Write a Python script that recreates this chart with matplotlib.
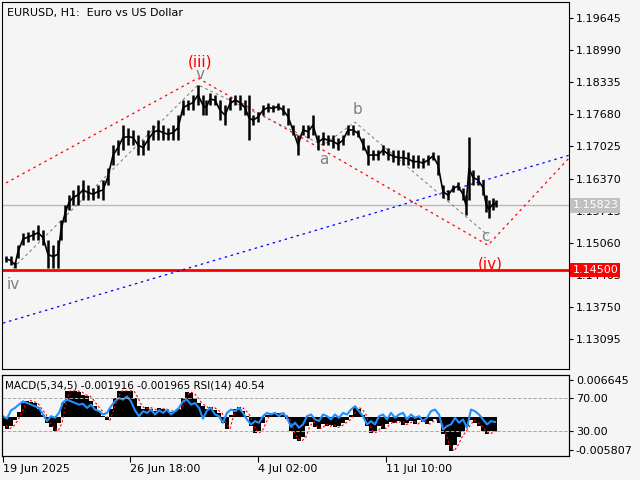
import matplotlib.pyplot as plt
import matplotlib.transforms as mtransforms

# price samples (bar position, high, low)
bars = [3, 8, 12, 15, 20, 25, 30, 35, 40, 45, 50, 55, 58, 62, 66, 70, 75, 80, 85, 90,
        95, 100, 105, 110, 115, 120, 125, 130, 135, 140, 145, 150, 155, 160, 165, 170, 175, 180, 185, 190,
        195, 200, 203, 207, 212, 217, 222, 227, 232, 237, 242, 246, 250, 255, 260, 265, 270, 275, 280, 285,
        290, 295, 300, 305, 310, 315, 320, 325, 330, 335, 340, 345, 350, 355, 360, 365, 370, 375, 380, 385,
        390, 395, 400, 405, 410, 415, 420, 425, 430, 435, 440, 445, 450, 455, 460, 463, 466, 470, 475, 480,
        483, 486, 490, 493]
highs = [1.1479, 1.1479, 1.1467, 1.1501, 1.1526, 1.1528, 1.1532, 1.1542, 1.1532, 1.1511, 1.1501, 1.1511,
         1.1552, 1.1583, 1.1603, 1.1613, 1.1624, 1.1634, 1.1624, 1.1617, 1.1624, 1.1634, 1.1658, 1.1705,
         1.1715, 1.1746, 1.1740, 1.1736, 1.1726, 1.1715, 1.1736, 1.1746, 1.1756, 1.1746, 1.1740, 1.1746,
         1.1766, 1.1797, 1.1797, 1.1807, 1.1828, 1.1807, 1.1797, 1.1811, 1.1807, 1.1797, 1.1787, 1.1803,
         1.1807, 1.1807, 1.1797, 1.1807, 1.1766, 1.1773, 1.1787, 1.1791, 1.1787, 1.1791, 1.1787, 1.1781,
         1.1746, 1.1726, 1.1746, 1.1746, 1.1766, 1.1726, 1.1732, 1.1726, 1.1726, 1.1719, 1.1726, 1.1746,
         1.1746, 1.1736, 1.1719, 1.1705, 1.1695, 1.1695, 1.1705, 1.1699, 1.1695, 1.1695, 1.1695, 1.1691,
         1.1685, 1.1685, 1.1679, 1.1685, 1.1691, 1.1685, 1.1624, 1.1613, 1.1624, 1.1630, 1.1617, 1.1603,
         1.1722, 1.1654, 1.1644, 1.1634, 1.1603, 1.1593, 1.1597, 1.1593]
lows = [1.1467, 1.1460, 1.1454, 1.1475, 1.1501, 1.1507, 1.1511, 1.1511, 1.1501, 1.1454, 1.1454, 1.1454,
        1.1511, 1.1548, 1.1573, 1.1583, 1.1583, 1.1593, 1.1593, 1.1593, 1.1597, 1.1593, 1.1624, 1.1664,
        1.1685, 1.1695, 1.1705, 1.1705, 1.1685, 1.1685, 1.1695, 1.1715, 1.1715, 1.1715, 1.1715, 1.1715,
        1.1715, 1.1766, 1.1777, 1.1777, 1.1787, 1.1766, 1.1766, 1.1787, 1.1787, 1.1756, 1.1746, 1.1777,
        1.1787, 1.1777, 1.1766, 1.1715, 1.1746, 1.1752, 1.1766, 1.1773, 1.1773, 1.1777, 1.1766, 1.1746,
        1.1726, 1.1685, 1.1726, 1.1719, 1.1726, 1.1695, 1.1705, 1.1705, 1.1699, 1.1695, 1.1705, 1.1726,
        1.1726, 1.1722, 1.1695, 1.1664, 1.1675, 1.1675, 1.1685, 1.1675, 1.1671, 1.1664, 1.1664, 1.1664,
        1.1658, 1.1658, 1.1658, 1.1664, 1.1675, 1.1644, 1.1597, 1.1593, 1.1609, 1.1613, 1.1593, 1.1562,
        1.1593, 1.1624, 1.1624, 1.1603, 1.1568, 1.1556, 1.1573, 1.1579]

price_ticks = [1.19645, 1.18990, 1.18335, 1.17680, 1.17025, 1.16370, 1.15715, 1.15060, 1.14405, 1.13750, 1.13095]
current_price = 1.15823
support = 1.14500

# wave points (bar, price)
red_upper = ([3, 195], [1.1628, 1.1842])
red_zigzag = ([195, 485, 567], [1.1842, 1.1501, 1.1681])
blue_line = ([0, 567], [1.1342, 1.1685])
gray_waves = ([10, 195, 320, 352, 485], [1.1454, 1.1828, 1.1705, 1.1752, 1.1521])

# indicator (bar step 4)
ind_x = list(range(0, 496, 4))
macd = [-1.5, -2.0, -1.5, -0.5, 1.0, 2.5, 3.0, 2.8, 2.5, 1.5, 0.5, -1.0, -1.8, -2.5, -1.0, 2.5, 4.7, 4.7, 4.7, 4.5,
        4.0, 3.8, 3.0, 2.0, 1.2, 0.3, -0.5, 1.5, 3.5, 4.7, 4.7, 4.7, 4.7, 3.5, 2.0, 1.5, 1.8, 1.5, 1.2, 1.6,
        1.4, 1.3, 1.0, 1.2, 1.5, 3.5, 4.5, 4.3, 3.5, 2.5, 2.0, 1.5, 1.8, 1.3, 0.8, -1.0, -2.0, 0.5, 1.5, 1.8,
        1.2, 0.3, -1.5, -2.8, -2.5, -1.0, 0.5, 0.8, 0.6, 0.8, 0.5, -0.3, -2.5, -3.8, -4.2, -3.5, -1.5, -0.8, -1.8, -2.0,
        -1.2, -1.6, -1.3, -1.8, -1.5, -1.0, -0.5, 0.5, 1.8, 1.5, 0.5, -1.5, -2.8, -2.5, -1.5, -2.0, -1.2, -0.8, -1.0, -0.6,
        -1.3, -1.0, -0.7, -1.2, -0.5, -0.8, -1.2, -0.6, -0.3, -1.0, -3.0, -5.0, -6.0, -5.0, -3.5, -2.5, -1.5, -0.5, -1.0, -1.5,
        -2.5, -3.0, -2.5, -2.5]
rsi = [48, 45, 55, 58, 62, 66, 64, 62, 60, 58, 50, 42, 48, 46, 52, 65, 68, 66, 64, 62,
       63, 58, 62, 56, 54, 50, 52, 60, 66, 70, 68, 72, 66, 55, 48, 54, 52, 56, 50, 55,
       52, 56, 50, 54, 58, 66, 68, 62, 64, 58, 45, 55, 58, 50, 48, 40, 52, 56, 54, 58,
       52, 44, 38, 42, 40, 48, 52, 50, 52, 48, 52, 46, 35, 40, 34, 38, 48, 50, 44, 42,
       50, 48, 44, 50, 46, 52, 50, 56, 60, 54, 48, 38, 42, 38, 48, 50, 44, 52, 46, 50,
       52, 44, 50, 46, 48, 42, 46, 54, 56, 50, 32, 36, 38, 46, 40, 44, 34, 56, 54, 50,
       44, 38, 42, 41]

date_ticks = [0, 127, 255, 383]
date_labels = ["19 Jun 2025", "26 Jun 18:00", "4 Jul 02:00", "11 Jul 10:00"]

bg = "#f5f5f5"
plt.rcParams['font.family'] = ['DejaVu Sans']
fig = plt.figure(figsize=(6.4, 4.8), dpi=100, facecolor=bg)
ax = fig.add_axes([2 / 640, 111 / 480, 567 / 640, 367 / 480], facecolor=bg)
ax2 = fig.add_axes([2 / 640, 24 / 480, 567 / 640, 81 / 480], facecolor=bg)

# main chart
ax.axhline(current_price, color="#bbbbbb", lw=1)
ax.axhline(support, color="red", lw=2)
ax.plot(*red_upper, color="red", ls=(0, (2, 3)), lw=0.9)
ax.plot(*red_zigzag, color="red", ls=(0, (2, 3)), lw=0.9)
ax.plot(*blue_line, color="blue", ls=(0, (2, 3)), lw=0.9)
ax.plot(*gray_waves, color="#777777", ls=(0, (3, 3)), lw=0.7)
mids = [(h + l) / 2 for h, l in zip(highs, lows)]
ax.plot(bars, mids, color="black", lw=1.2)
ax.vlines(bars, lows, highs, color="black", lw=1.8)

ax.text(197, 1.1875, "(iii)", color="red", fontsize=11, ha="center", va="center")
ax.text(197, 1.1850, "v", color="gray", fontsize=11, ha="center", va="center")
ax.text(10, 1.1420, "iv", color="gray", fontsize=11, ha="center", va="center")
ax.text(321, 1.1675, "a", color="gray", fontsize=11, ha="center", va="center")
ax.text(354, 1.1778, "b", color="gray", fontsize=11, ha="center", va="center")
ax.text(482, 1.1518, "c", color="gray", fontsize=11, ha="center", va="center")
ax.text(487, 1.1463, "(iv)", color="red", fontsize=11, ha="center", va="center")
ax.text(0.008, 0.985, "EURUSD, H1:  Euro vs US Dollar", transform=ax.transAxes,
        fontsize=8, va="top")

ax.set_xlim(-1, 566)
ax.set_ylim(1.12483, 1.19972)
ax.set_xticks([])
ax.yaxis.tick_right()
ax.set_yticks(price_ticks)
ax.set_yticklabels([f"{p:.5f}" for p in price_ticks])
ax.tick_params(axis="y", labelsize=8, length=3, pad=2)
trans = mtransforms.blended_transform_factory(ax.transAxes, ax.transData)
ax.text(1.006, current_price, f"{current_price:.5f}", transform=trans, color="white", fontsize=8,
        va="center", bbox=dict(boxstyle="square,pad=0.2", fc="#c0c0c0", ec="none"))
ax.text(1.006, support, f"{support:.5f}", transform=trans, color="white", fontsize=8,
        va="center", bbox=dict(boxstyle="square,pad=0.2", fc="red", ec="none"))

# indicator panel
ax3 = ax2.twinx()
ax2.set_xlim(-1, 566)
macd_v = [m / 1000 for m in macd]
ax2.bar(ind_x, macd_v, width=4, color="black")
ax2.plot([x + 3 for x in ind_x], macd_v, color="red", ls=(0, (2, 2)), lw=0.8)
ax2.set_ylim(-0.006890, 0.007547)
ax2.set_yticks([0.006645, -0.005807])
ax2.set_yticklabels(["0.006645", "-0.005807"])
ax2.yaxis.tick_right()
ax2.tick_params(axis="y", labelsize=8, length=3, pad=2, left=False, labelleft=False,
                right=True, labelright=True)
ax2.set_xticks(date_ticks)
ax2.set_xticklabels(date_labels, ha="left")
ax2.tick_params(axis="x", labelsize=8, length=4, pad=2)

ax3.set_ylim(-0.3, 97.9)
ax3.plot(ind_x, rsi, color="#1e90ff", lw=1.5)
ax3.axhline(70, color="#aaaaaa", ls="--", lw=0.7)
ax3.axhline(30, color="#aaaaaa", ls="--", lw=0.7)
ax3.set_yticks([70, 30])
ax3.set_yticklabels(["70.00", "30.00"])
ax3.tick_params(axis="y", labelsize=8, length=3, pad=2)
ax3.set_xlim(-1, 566)
ax3.text(0.005, 0.93, "MACD(5,34,5) -0.001916 -0.001965 RSI(14) 40.54", transform=ax2.transAxes,
         fontsize=7.5, va="top", zorder=5)

plt.savefig("out.png", dpi=100, facecolor=bg)
